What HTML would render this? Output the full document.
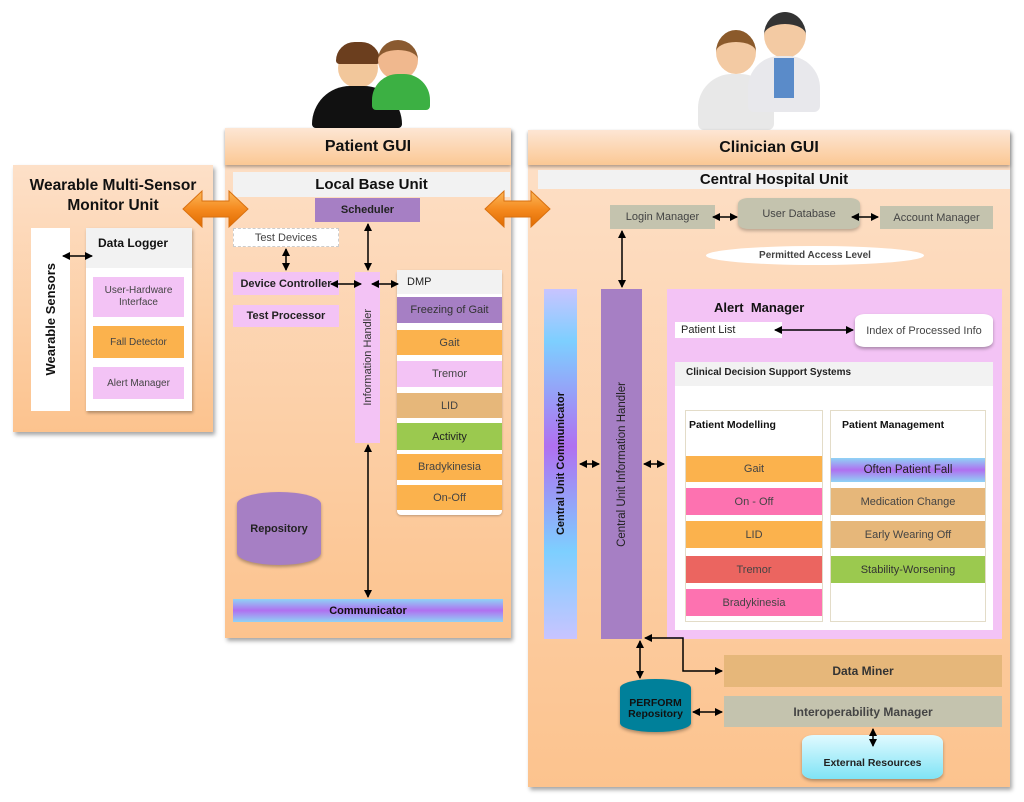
<!DOCTYPE html>
<html><head><meta charset="utf-8"><style>
body{margin:0;width:1024px;height:802px;background:#fff;position:relative;overflow:hidden;font-family:"Liberation Sans",sans-serif;}
div{position:absolute;box-sizing:border-box;}
.c{display:flex;align-items:center;justify-content:center;text-align:center;}
.panel{background:linear-gradient(#fde0c8,#fcc38e);box-shadow:2px 3px 4px rgba(0,0,0,.35);}
.hdr{background:linear-gradient(#fde6d4,#fbc894);font-weight:bold;font-size:16px;color:#111;box-shadow:0 2px 3px rgba(0,0,0,.3);}
.pink{background:#f3c3f5;}
.org{background:#fbb24d;}
.tan{background:#e6b77a;}
.grn{background:#9bc94f;}
.gr{background:#c4c3ae;color:#444;}
.t11{font-size:11px;color:#444;}
.b{font-weight:bold;color:#222;}
.vert{writing-mode:vertical-rl;transform:rotate(180deg);}
</style></head><body>

<!-- people icons -->
<div style="left:338px;top:48px;width:40px;height:40px;border-radius:50%;background:#f2c79b"></div>
<div style="left:336px;top:42px;width:44px;height:22px;border-radius:22px 22px 4px 4px;background:#6b3e1e"></div>
<div style="left:312px;top:86px;width:90px;height:42px;border-radius:40px 40px 4px 4px;background:#111"></div>
<div style="left:378px;top:40px;width:40px;height:40px;border-radius:50%;background:#f0b88e;border-top:10px solid #8a5a30"></div>
<div style="left:372px;top:74px;width:58px;height:36px;border-radius:26px 26px 4px 4px;background:#3cb043"></div>
<div style="left:716px;top:30px;width:40px;height:44px;border-radius:50%;background:#f3caa3;border-top:12px solid #8b5a2b"></div>
<div style="left:698px;top:74px;width:76px;height:56px;border-radius:34px 34px 6px 6px;background:#e8e8e8"></div>
<div style="left:764px;top:12px;width:42px;height:46px;border-radius:50%;background:#f3caa3;border-top:12px solid #333"></div>
<div style="left:748px;top:56px;width:72px;height:56px;border-radius:32px 32px 6px 6px;background:#e8e8ec"></div>
<div style="left:774px;top:58px;width:20px;height:40px;background:#5a8bc9"></div>

<!-- Wearable -->
<div class="panel" style="left:13px;top:165px;width:200px;height:267px"></div>
<div class="c b" style="left:13px;top:174px;width:200px;height:44px;font-size:15.5px;line-height:20px;color:#111">Wearable Multi-Sensor<br>Monitor Unit</div>
<div class="c" style="left:31px;top:228px;width:39px;height:183px;background:#fff"><span class="vert b" style="font-size:13px;color:#111">Wearable Sensors</span></div>
<div style="left:86px;top:228px;width:106px;height:183px;background:#fff;box-shadow:1px 2px 3px rgba(0,0,0,.3)"></div>
<div class="b" style="left:86px;top:228px;width:106px;height:40px;background:#f2f2f2;padding:8px 0 0 12px;font-size:12px;color:#111">Data Logger</div>
<div class="c pink t11" style="left:93px;top:277px;width:91px;height:40px;font-size:10px;line-height:12px">User-Hardware<br>Interface</div>
<div class="c org t11" style="left:93px;top:326px;width:91px;height:32px;font-size:10px">Fall Detector</div>
<div class="c pink t11" style="left:93px;top:367px;width:91px;height:32px;font-size:10px">Alert Manager</div>

<!-- Patient GUI -->
<div class="panel" style="left:225px;top:128px;width:286px;height:510px"></div>
<div class="c hdr" style="left:225px;top:128px;width:286px;height:37px">Patient GUI</div>
<div class="c b" style="left:233px;top:172px;width:277px;height:25px;background:#f2f2f2;font-size:15px;color:#111">Local Base Unit</div>
<div class="c b" style="left:315px;top:198px;width:105px;height:24px;background:#a67fc4;font-size:11px">Scheduler</div>
<div class="c t11" style="left:233px;top:228px;width:106px;height:19px;background:#fff;border:1px dashed #ccc">Test Devices</div>
<div class="c pink b" style="left:233px;top:272px;width:106px;height:23px;font-size:11px">Device Controller</div>
<div class="c pink b" style="left:233px;top:305px;width:106px;height:22px;font-size:11px">Test Processor</div>
<div class="c pink" style="left:355px;top:272px;width:25px;height:171px"><span class="vert" style="font-size:11px;color:#333">Information Handler</span></div>
<div style="left:397px;top:270px;width:105px;height:245px;background:#fff;border-radius:4px;box-shadow:0 1px 2px rgba(0,0,0,.25)"></div>
<div class="t11" style="left:397px;top:270px;width:105px;height:24px;background:#f2f2f2;padding:6px 0 0 10px;color:#222">DMP</div>
<div class="c t11" style="left:397px;top:297px;width:105px;height:26px;background:#a67fc4;color:#333">Freezing of Gait</div>
<div class="c org t11" style="left:397px;top:330px;width:105px;height:25px">Gait</div>
<div class="c pink t11" style="left:397px;top:361px;width:105px;height:26px">Tremor</div>
<div class="c tan t11" style="left:397px;top:393px;width:105px;height:25px">LID</div>
<div class="c grn t11" style="left:397px;top:423px;width:105px;height:27px;color:#222">Activity</div>
<div class="c org t11" style="left:397px;top:454px;width:105px;height:26px">Bradykinesia</div>
<div class="c org t11" style="left:397px;top:485px;width:105px;height:25px">On-Off</div>
<div class="c b" style="left:237px;top:492px;width:84px;height:73px;background:#a67fc4;border-radius:42px/12px;font-size:11px;box-shadow:0 2px 3px rgba(0,0,0,.3)">Repository</div>
<div class="c b" style="left:233px;top:599px;width:270px;height:23px;background:linear-gradient(#8fd3f5,#b070f0 50%,#8fd3f5);font-size:11px;color:#111">Communicator</div>

<!-- Clinician GUI -->
<div class="panel" style="left:528px;top:130px;width:482px;height:657px"></div>
<div class="c hdr" style="left:528px;top:130px;width:482px;height:35px">Clinician&nbsp;GUI</div>
<div class="c b" style="left:538px;top:170px;width:472px;height:19px;background:#f2f2f2;font-size:15px;color:#111">Central Hospital Unit</div>
<div class="c gr" style="left:610px;top:205px;width:105px;height:24px;font-size:11px">Login Manager</div>
<div class="c gr" style="left:738px;top:198px;width:122px;height:31px;font-size:11px;border-radius:10px/6px;box-shadow:0 2px 3px rgba(0,0,0,.25)">User Database</div>
<div class="c gr" style="left:880px;top:206px;width:113px;height:23px;font-size:11px">Account Manager</div>
<div class="c b" style="left:706px;top:246px;width:218px;height:19px;background:#fff;border-radius:50%;font-size:10px;color:#444">Permitted Access Level</div>
<div class="c" style="left:544px;top:289px;width:33px;height:350px;background:linear-gradient(#c8c4ff,#7dcfff 15%,#b070f0 45%,#7dcfff 75%,#c8c4ff)"><span class="vert b" style="font-size:11px;color:#111">Central Unit Communicator</span></div>
<div class="c" style="left:601px;top:289px;width:41px;height:350px;background:#a67fc4"><span class="vert" style="font-size:11.5px;color:#222">Central Unit Information Handler</span></div>
<div class="pink" style="left:667px;top:289px;width:335px;height:350px"></div>
<div class="b" style="left:714px;top:300px;font-size:13px;color:#111">Alert&nbsp; Manager</div>
<div class="t11" style="left:675px;top:322px;width:107px;height:16px;background:#fff;padding:2px 0 0 6px;color:#222">Patient List</div>
<div class="c t11" style="left:855px;top:314px;width:138px;height:33px;background:#fff;border-radius:10px/6px;box-shadow:0 2px 3px rgba(0,0,0,.3)">Index of Processed Info</div>
<div style="left:675px;top:362px;width:318px;height:268px;background:#fff"></div>
<div class="b" style="left:675px;top:362px;width:318px;height:24px;background:#f2f2f2;padding:5px 0 0 11px;font-size:10px;color:#222">Clinical Decision Support Systems</div>
<div style="left:685px;top:410px;width:138px;height:212px;border:1px solid #e3dcc8"></div>
<div style="left:830px;top:410px;width:156px;height:212px;border:1px solid #e3dcc8"></div>
<div class="b" style="left:689px;top:419px;font-size:10.5px;color:#111">Patient Modelling</div>
<div class="b" style="left:842px;top:419px;font-size:10.5px;color:#111">Patient Management</div>
<div class="c org t11" style="left:686px;top:456px;width:136px;height:26px">Gait</div>
<div class="c t11" style="left:686px;top:488px;width:136px;height:27px;background:#fd72b0">On - Off</div>
<div class="c org t11" style="left:686px;top:521px;width:136px;height:27px">LID</div>
<div class="c t11" style="left:686px;top:556px;width:136px;height:27px;background:#eb6560">Tremor</div>
<div class="c t11" style="left:686px;top:589px;width:136px;height:27px;background:#fd72b0">Bradykinesia</div>
<div class="c" style="left:831px;top:458px;width:154px;height:24px;background:linear-gradient(#8fd3f5,#b070f0 50%,#8fd3f5);font-size:11.5px;color:#222">Often Patient Fall</div>
<div class="c tan t11" style="left:831px;top:488px;width:154px;height:27px">Medication Change</div>
<div class="c tan t11" style="left:831px;top:521px;width:154px;height:27px">Early Wearing Off</div>
<div class="c grn t11" style="left:831px;top:556px;width:154px;height:27px;color:#333">Stability-Worsening</div>
<div class="c tan b" style="left:724px;top:655px;width:278px;height:32px;font-size:12px;color:#333">Data Miner</div>
<div class="c gr b" style="left:724px;top:696px;width:278px;height:31px;font-size:12px;color:#444">Interoperability Manager</div>
<div class="c b" style="left:620px;top:679px;width:71px;height:53px;background:#00809a;border-radius:35px/9px;font-size:10.5px;line-height:11px;color:#111;padding-top:6px;box-shadow:0 2px 3px rgba(0,0,0,.3)">PERFORM<br>Repository</div>
<div class="c b" style="left:802px;top:735px;width:141px;height:44px;background:linear-gradient(#e0faff,#7fe3f5);border-radius:12px/7px;font-size:10.5px;color:#222;padding-top:12px;box-shadow:0 2px 3px rgba(0,0,0,.3)">External Resources</div>

<svg width="1024" height="802" style="position:absolute;left:0;top:0" xmlns="http://www.w3.org/2000/svg">
<defs>
<marker id="a" markerWidth="8" markerHeight="8" refX="7" refY="4" orient="auto-start-reverse" markerUnits="userSpaceOnUse"><path d="M0,0 L8,4 L0,8 z" fill="#000"/></marker>
<linearGradient id="og" x1="0" y1="0" x2="0" y2="1"><stop offset="0" stop-color="#fbb85a"/><stop offset=".5" stop-color="#f58a1f"/><stop offset="1" stop-color="#e06b00"/></linearGradient>
</defs>
<g fill="url(#og)" stroke="#d9700f" stroke-width="1">
<path d="M183,209 L202,191 L202,201 L229,201 L229,191 L248,209 L229,227 L229,217 L202,217 L202,227 Z"/>
<path d="M485,209 L504,191 L504,201 L531,201 L531,191 L550,209 L531,227 L531,217 L504,217 L504,227 Z"/>
</g>
<g stroke="#000" stroke-width="1.5" fill="none" marker-start="url(#a)" marker-end="url(#a)">
<line x1="63" y1="256" x2="92" y2="256"/>
<line x1="286" y1="249" x2="286" y2="270"/>
<line x1="368" y1="224" x2="368" y2="270"/>
<line x1="331" y1="284" x2="361" y2="284"/>
<line x1="372" y1="284" x2="398" y2="284"/>
<line x1="368" y1="445" x2="368" y2="597"/>
<line x1="713" y1="217" x2="737" y2="217"/>
<line x1="852" y1="217" x2="878" y2="217"/>
<line x1="622" y1="231" x2="622" y2="287"/>
<line x1="580" y1="464" x2="599" y2="464"/>
<line x1="644" y1="464" x2="664" y2="464"/>
<line x1="640" y1="641" x2="640" y2="678"/>
<line x1="693" y1="712" x2="722" y2="712"/>
<line x1="873" y1="729" x2="873" y2="746"/>
<line x1="775" y1="330" x2="853" y2="330"/>
<polyline points="645,638 683,638 683,671 722,671"/>
</g>
</svg>
</body></html>
